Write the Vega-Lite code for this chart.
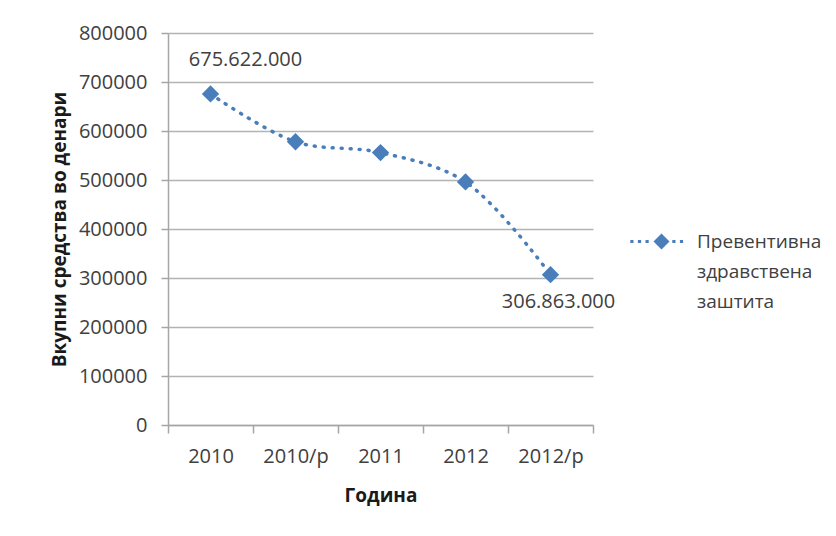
{
  "$schema": "https://vega.github.io/schema/vega-lite/v6.json",
  "width": 425,
  "height": 392,
  "autosize": {"type": "none"},
  "padding": {"left": 168, "top": 33, "right": 243, "bottom": 111},
  "background": "white",
  "config": {
    "font": "Open Sans",
    "view": {"stroke": null},
    "style": {"guide-label": {"lineHeight": 30}},
    "axis": {
      "labelFont": "Open Sans",
      "labelFontSize": 20,
      "labelColor": "#404040",
      "titleFont": "Open Sans",
      "titleFontSize": 19,
      "titleFontWeight": "bold",
      "titleColor": "#1a1a1a",
      "domainColor": "#a6a6a6",
      "domainWidth": 1.5,
      "tickColor": "#a6a6a6",
      "tickWidth": 1.5,
      "gridColor": "#b3b3b3",
      "gridWidth": 1.5
    }
  },
  "data": {
    "values": [
      {"year": "2010", "value": 675622, "label": "675.622.000", "series": "Превентивна здравствена заштита"},
      {"year": "2010/p", "value": 578000, "label": "", "series": "Превентивна здравствена заштита"},
      {"year": "2011", "value": 556000, "label": "", "series": "Превентивна здравствена заштита"},
      {"year": "2012", "value": 496000, "label": "", "series": "Превентивна здравствена заштита"},
      {"year": "2012/p", "value": 306863, "label": "306.863.000", "series": "Превентивна здравствена заштита"}
    ]
  },
  "encoding": {
    "x": {
      "field": "year",
      "type": "ordinal",
      "sort": null,
      "scale": {"paddingInner": 0, "paddingOuter": 0},
      "axis": {
        "title": "Година",
        "labelAngle": 0,
        "tickBand": "extent",
        "grid": false,
        "tickSize": 8,
        "labelPadding": 13,
        "titlePadding": 20
      }
    },
    "y": {
      "field": "value",
      "type": "quantitative",
      "scale": {"domain": [0, 800000], "nice": false},
      "axis": {
        "title": "Вкупни средства во денари",
        "values": [0, 100000, 200000, 300000, 400000, 500000, 600000, 700000, 800000],
        "format": "d",
        "tickSize": 7,
        "labelPadding": 14,
        "titlePadding": 9,
        "grid": true
      }
    }
  },
  "layer": [
    {
      "mark": {"type": "line", "interpolate": "catmull-rom", "strokeDash": [1, 8], "strokeWidth": 3.5, "strokeCap": "round"},
      "encoding": {
        "color": {
          "field": "series",
          "type": "nominal",
          "scale": {"range": ["#4a7ebb"]},
          "legend": {
            "title": null,
            "orient": "none",
            "legendX": 484,
            "legendY": 199,
            "padding": 0,
            "symbolType": "M0,-1L1,0L0,1L-1,0Z M-3.9,-0.2h0.4v0.4h-0.4Z M-2.95,-0.2h0.4v0.4h-0.4Z M-2.0,-0.2h0.4v0.4h-0.4Z M1.35,-0.2h0.4v0.4h-0.4Z M2.3,-0.2h0.4v0.4h-0.4Z",
            "symbolSize": 256,
            "symbolFillColor": "#4a7ebb",
            "symbolStrokeWidth": 0,
            "symbolStrokeColor": "#4a7ebb",
            "symbolDash": [],
            "labelOffset": 26,
            "labelFont": "Open Sans",
            "labelFontSize": 19,
            "labelColor": "#404040",
            "labelLimit": 300,
            "labelBaseline": "middle",
            "labelExpr": "['Превентивна', 'здравствена', 'заштита']"
          }
        }
      }
    },
    {
      "mark": {"type": "point", "shape": "diamond", "filled": true, "size": 300, "opacity": 1},
      "encoding": {
        "color": {"field": "series", "type": "nominal"}
      }
    },
    {
      "transform": [{"filter": "datum.year == '2010'"}],
      "mark": {"type": "text", "dx": 35, "dy": -34, "fontSize": 20, "font": "Open Sans", "color": "#404040"},
      "encoding": {"text": {"field": "label"}}
    },
    {
      "transform": [{"filter": "datum.year == '2012/p'"}],
      "mark": {"type": "text", "dx": 8, "dy": 27, "fontSize": 20, "font": "Open Sans", "color": "#404040"},
      "encoding": {"text": {"field": "label"}}
    }
  ]
}
